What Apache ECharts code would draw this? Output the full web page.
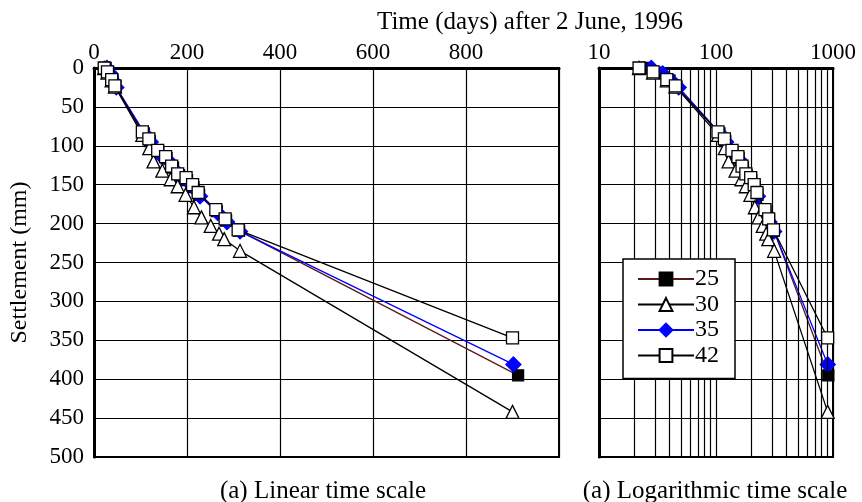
<!DOCTYPE html>
<html><head><meta charset="utf-8">
<script src="https://cdn.jsdelivr.net/npm/echarts@6/dist/echarts.min.js"></script>
<style>html,body{margin:0;padding:0;background:#fff}#c{width:862px;height:502px}</style>
</head><body><div id="c"></div>
<script>
// ---- data (time in days, settlement in mm) ----
const t25 = [25, 31, 40, 46, 107, 120, 138, 156, 170, 183, 200, 214, 226, 264, 284, 312, 912];
const s25 = [0, 6, 16, 24, 84, 94, 108, 116, 128, 138, 144, 153, 163, 184, 196, 209, 395];
const t30 = [22, 29, 38, 45, 104, 119, 128, 147, 165, 180, 197, 215, 231, 251, 269, 280, 314, 900];
const s30 = [0, 6, 16, 24, 86, 103, 120, 132, 143, 152, 163, 179, 192, 203, 213, 220, 235, 442];
const t35 = [28, 35, 42, 48, 110, 122, 140, 158, 172, 185, 202, 216, 228, 266, 286, 314, 902];
const s35 = [0, 7, 17, 25, 85, 95, 110, 118, 130, 140, 146, 155, 165, 186, 198, 210, 381];
const t42 = [22, 29, 38, 45, 104, 118, 137, 154, 167, 180, 198, 212, 224, 262, 282, 310, 900];
const s42 = [0, 5, 15, 23, 82, 91, 106, 114, 126, 136, 141, 150, 160, 182, 194, 208, 347];
const seriesNames = ['25', '30', '35', '42'];
const linearTicks = [0, 200, 400, 600, 800];
const logMinor = [20, 30, 40, 50, 60, 70, 80, 90, 200, 300, 400, 500, 600, 700, 800, 900];
const settleTicks = [0, 50, 100, 150, 200, 250, 300, 350, 400, 450, 500];

const pairs = (t, s) => t.map((v, i) => [v, s[i]]);
const FONT = 'Liberation Serif';

const styles = {
  '25': {color: '#000', line: '#5b1a1a', symbol: 'rect', size: 11, border: '#000'},
  '30': {color: '#fff', line: '#000', symbol: 'triangle', size: 13, border: '#000'},
  '35': {color: '#0000ff', line: '#0000ff', symbol: 'diamond', size: 15, border: '#0000ff'},
  '42': {color: '#fff', line: '#000', symbol: 'rect', size: 12, border: '#000'}
};
const dataMap = {'25': pairs(t25, s25), '30': pairs(t30, s30), '35': pairs(t35, s35), '42': pairs(t42, s42)};
const drawOrder = ['25', '35', '30', '42'];

const series = [];
[0, 1].forEach(g => {
  drawOrder.forEach((n, k) => {
    const st = styles[n];
    series.push({
      name: n, type: 'line', xAxisIndex: g, yAxisIndex: g,
      data: dataMap[n], symbol: st.symbol, symbolSize: st.size,
      showAllSymbol: true, animation: false, z: 3 + k,
      itemStyle: {color: st.color, borderColor: st.border, borderWidth: 1.3},
      lineStyle: {color: st.line, width: 1.3}
    });
  });
});
series.push({
  type: 'line', xAxisIndex: 1, yAxisIndex: 1, data: [], symbol: 'none', z: 1, silent: true,
  markLine: {silent: true, symbol: 'none', animation: false, label: {show: false},
    lineStyle: {color: '#000', width: 1.2, type: 'solid'},
    data: logMinor.map(v => ({xAxis: v}))}
});

const axisLabel = {color: '#000', fontFamily: FONT, fontSize: 23};
const chart = echarts.init(document.getElementById('c'), null, {renderer: 'canvas'});
chart.setOption({
  backgroundColor: '#fff',
  animation: false,
  textStyle: {fontFamily: FONT},
  grid: [
    {left: 93, top: 68, width: 466, height: 389, show: true, borderColor: '#000', borderWidth: 2},
    {left: 599, top: 68, width: 234, height: 389, show: true, borderColor: '#000', borderWidth: 2}
  ],
  xAxis: [
    {type: 'value', gridIndex: 0, position: 'top', min: 0, max: 1000, interval: 200,
      axisLine: {show: true, lineStyle: {color: '#000', width: 3}}, axisTick: {show: false},
      axisLabel: Object.assign({margin: 4, showMaxLabel: false,
        formatter: v => linearTicks.includes(v) ? String(v) : ''}, axisLabel),
      splitLine: {show: true, lineStyle: {color: '#000', width: 1.2}}},
    {type: 'log', gridIndex: 1, position: 'top', min: 10, max: 1000, logBase: 10,
      axisLine: {show: true, lineStyle: {color: '#000', width: 3}}, axisTick: {show: false},
      axisLabel: Object.assign({margin: 4, formatter: v => String(Math.round(v))}, axisLabel),
      splitLine: {show: true, lineStyle: {color: '#000', width: 1.2}}}
  ],
  yAxis: [
    {type: 'value', gridIndex: 0, inverse: true, min: 0, max: 500, interval: 50,
      name: 'Settlement (mm)', nameLocation: 'middle', nameGap: 62, nameRotate: 90,
      nameTextStyle: {color: '#000', fontFamily: FONT, fontSize: 24},
      axisLine: {show: true, lineStyle: {color: '#000', width: 3}}, axisTick: {show: false},
      axisLabel: Object.assign({margin: 10, formatter: v => settleTicks.includes(v) ? String(v) : ''}, axisLabel),
      splitLine: {show: true, lineStyle: {color: '#000', width: 1.2}}},
    {type: 'value', gridIndex: 1, inverse: true, min: 0, max: 500, interval: 50,
      axisLine: {show: true, lineStyle: {color: '#000', width: 3}}, axisTick: {show: false},
      axisLabel: {show: false},
      splitLine: {show: true, lineStyle: {color: '#000', width: 1.2}}}
  ],
  legend: {
    data: seriesNames, orient: 'vertical', left: 623, top: 259,
    padding: [8, 16, 11, 14], itemWidth: 56, itemHeight: 16, itemGap: 1.5,
    backgroundColor: '#fff', borderColor: '#000', borderWidth: 1.5,
    textStyle: {color: '#000', fontFamily: FONT, fontSize: 24, lineHeight: 24, padding: [0, 0, 0, -4]},
    selectedMode: false, z: 20
  },
  title: [
    {text: 'Time (days) after 2 June, 1996', left: 525, top: 5, textAlign: 'center',
      textStyle: {color: '#000', fontFamily: FONT, fontSize: 25, fontWeight: 'normal'}},
    {text: '(a) Linear time scale', left: 318, top: 474, textAlign: 'center',
      textStyle: {color: '#000', fontFamily: FONT, fontSize: 25, fontWeight: 'normal'}},
    {text: '(a) Logarithmic time scale', left: 710, top: 474, textAlign: 'center',
      textStyle: {color: '#000', fontFamily: FONT, fontSize: 25, fontWeight: 'normal'}}
  ],
  series: series
});
</script></body></html>
